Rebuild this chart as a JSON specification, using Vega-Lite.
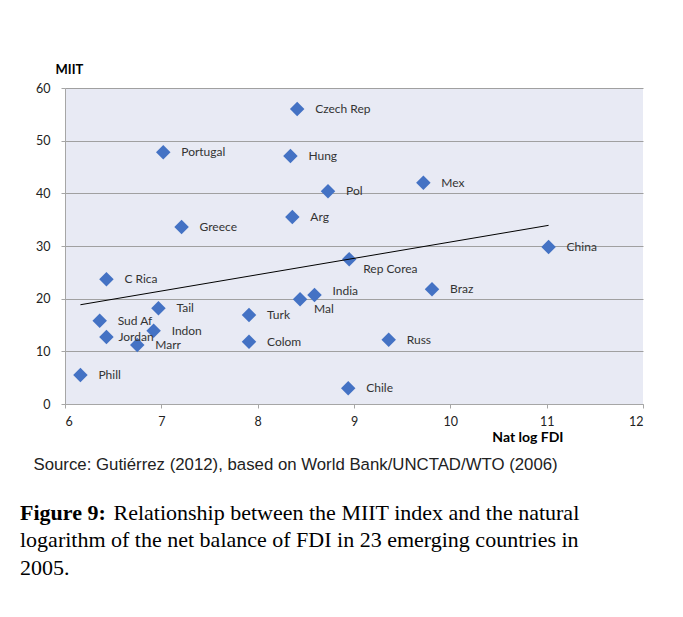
{
  "$schema": "https://vega.github.io/schema/vega-lite/v6.json",
  "width": 578,
  "height": 316,
  "autosize": {"type": "none"},
  "padding": {"left": 65, "top": 88, "right": 40, "bottom": 213},
  "background": "white",
  "config": {
    "view": {"fill": "#E8EAF4", "stroke": null},
    "font": "Lato",
    "axis": {
      "labelFont": "Lato",
      "labelFontSize": 12.5,
      "labelColor": "#222222",
      "tickColor": "#A6A6A6",
      "domainColor": "#A6A6A6",
      "gridColor": "#A0A0A0",
      "gridOpacity": 1,
      "tickSize": 4
    }
  },
  "title": {
    "text": "Figure 9:",
    "subtitle": [
      "\u200b\u00a0\u00a0\u00a0\u00a0\u00a0\u00a0\u00a0\u00a0\u00a0\u00a0\u00a0\u00a0\u00a0\u00a0\u00a0\u00a0 Relationship between the MIIT index and the natural",
      "logarithm of the net balance of FDI in 23 emerging countries in",
      "2005."
    ],
    "orient": "bottom",
    "anchor": "start",
    "frame": "group",
    "dx": -45,
    "offset": 30,
    "font": "Liberation Serif",
    "fontSize": 22,
    "fontWeight": "bold",
    "color": "#000000",
    "subtitleFont": "Liberation Serif",
    "subtitleFontSize": 22,
    "subtitleColor": "#000000",
    "subtitleLineHeight": 27.5,
    "subtitlePadding": -22
  },
  "data": {
    "values": [
      {"country": "Czech Rep", "fdi": 8.41, "miit": 56.0},
      {"country": "Portugal", "fdi": 7.02, "miit": 47.8},
      {"country": "Hung", "fdi": 8.34, "miit": 47.1},
      {"country": "Pol", "fdi": 8.73, "miit": 40.4},
      {"country": "Mex", "fdi": 9.72, "miit": 42.0},
      {"country": "Arg", "fdi": 8.36, "miit": 35.5},
      {"country": "Greece", "fdi": 7.21, "miit": 33.6},
      {"country": "China", "fdi": 11.02, "miit": 29.8},
      {"country": "Rep Corea", "fdi": 8.95, "miit": 27.5},
      {"country": "C Rica", "fdi": 6.43, "miit": 23.7},
      {"country": "Braz", "fdi": 9.81, "miit": 21.8},
      {"country": "India", "fdi": 8.59, "miit": 20.7},
      {"country": "Mal", "fdi": 8.44, "miit": 19.9},
      {"country": "Tail", "fdi": 6.97, "miit": 18.2},
      {"country": "Turk", "fdi": 7.91, "miit": 16.9},
      {"country": "Sud Af", "fdi": 6.36, "miit": 15.8},
      {"country": "Indon", "fdi": 6.92, "miit": 13.9},
      {"country": "Jordan", "fdi": 6.43, "miit": 12.7},
      {"country": "Marr", "fdi": 6.75, "miit": 11.2},
      {"country": "Colom", "fdi": 7.91, "miit": 11.8},
      {"country": "Russ", "fdi": 9.36, "miit": 12.2},
      {"country": "Phill", "fdi": 6.16, "miit": 5.5},
      {"country": "Chile", "fdi": 8.94, "miit": 3.0}
    ]
  },
  "layer": [
    {
      "mark": {"type": "point", "shape": "diamond", "filled": true, "size": 210, "color": "#4472C4", "opacity": 1},
      "encoding": {
        "x": {
          "field": "fdi", "type": "quantitative",
          "scale": {"domain": [6, 12], "nice": false, "zero": false},
          "axis": {
            "orient": "bottom",
            "values": [6, 7, 8, 9, 10, 11, 12],
            "grid": false,
            "labelPadding": 7,
            "title": "Nat log FDI",
            "titleFont": "Lato",
            "titleFontSize": 14,
            "titleFontWeight": "bold",
            "titleColor": "#000000",
            "titleAlign": "right",
            "titleAnchor": "end",
            "titleBaseline": "middle",
            "titleX": 498,
            "titleY": 33
          }
        },
        "y": {
          "field": "miit", "type": "quantitative",
          "scale": {"domain": [0, 60], "nice": false},
          "axis": {
            "values": [0, 10, 20, 30, 40, 50, 60],
            "grid": true,
            "labelPadding": 11,
            "title": "MIIT",
            "titleFont": "Lato",
            "titleFontSize": 13,
            "titleFontWeight": "bold",
            "titleColor": "#000000",
            "titleAngle": 0,
            "titleAlign": "left",
            "titleBaseline": "middle",
            "titleX": -10,
            "titleY": -19
          }
        }
      }
    },
    {
      "transform": [{"filter": {"not": {"field": "country", "oneOf": ["Rep Corea", "Mal", "India", "Jordan"]}}}],
      "mark": {"type": "text", "align": "left", "baseline": "middle", "dx": 18, "fontSize": 12, "color": "#333333", "font": "Lato"},
      "encoding": {
        "x": {"field": "fdi", "type": "quantitative", "axis": null},
        "y": {"field": "miit", "type": "quantitative"},
        "text": {"field": "country"}
      }
    },
    {
      "transform": [{"filter": {"field": "country", "oneOf": ["Rep Corea", "Mal"]}}],
      "mark": {"type": "text", "align": "left", "baseline": "middle", "dx": 14, "dy": 10, "fontSize": 12, "color": "#333333", "font": "Lato"},
      "encoding": {
        "x": {"field": "fdi", "type": "quantitative", "axis": null},
        "y": {"field": "miit", "type": "quantitative"},
        "text": {"field": "country"}
      }
    },
    {
      "transform": [{"filter": {"field": "country", "oneOf": ["India"]}}],
      "mark": {"type": "text", "align": "left", "baseline": "middle", "dx": 18, "dy": -4, "fontSize": 12, "color": "#333333", "font": "Lato"},
      "encoding": {
        "x": {"field": "fdi", "type": "quantitative", "axis": null},
        "y": {"field": "miit", "type": "quantitative"},
        "text": {"field": "country"}
      }
    },
    {
      "transform": [{"filter": {"field": "country", "oneOf": ["Jordan"]}}],
      "mark": {"type": "text", "align": "left", "baseline": "middle", "dx": 12, "fontSize": 12, "color": "#333333", "font": "Lato"},
      "encoding": {
        "x": {"field": "fdi", "type": "quantitative", "axis": null},
        "y": {"field": "miit", "type": "quantitative"},
        "text": {"field": "country"}
      }
    },
    {
      "transform": [{"regression": "miit", "on": "fdi"}],
      "mark": {"type": "line", "color": "#000000", "strokeWidth": 1},
      "encoding": {
        "x": {
          "field": "fdi", "type": "quantitative",
          "axis": {
            "orient": "bottom",
            "labels": false, "ticks": false, "domain": false, "grid": false,
            "title": "Source: Gutiérrez (2012), based on World Bank/UNCTAD/WTO (2006)",
            "titleFont": "Liberation Sans",
            "titleFontSize": 16.8,
            "titleFontWeight": "normal",
            "titleColor": "#222222",
            "titleAlign": "left",
            "titleAnchor": "start",
            "titleBaseline": "middle",
            "titleX": -32,
            "titleY": 60
          }
        },
        "y": {"field": "miit", "type": "quantitative"}
      }
    }
  ],
  "resolve": {"axis": {"x": "independent"}}
}
